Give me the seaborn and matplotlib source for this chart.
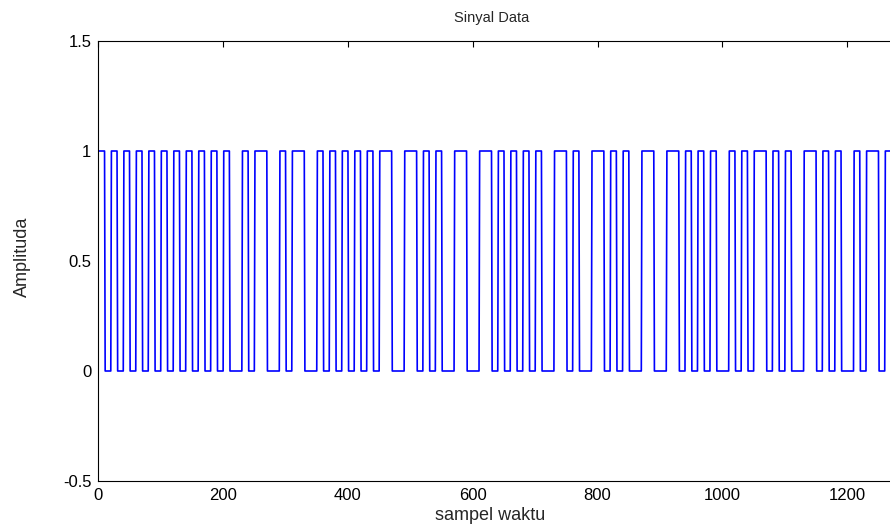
import numpy as np
import pandas as pd
import seaborn as sns
import matplotlib
matplotlib.use("Agg")
import matplotlib.pyplot as plt
from matplotlib.ticker import FuncFormatter

# bit data (128 bits, 10 samples per bit)
bits = [1, 0, 1, 0, 1, 0, 1, 0, 1, 0,
        1, 0, 1, 0, 1, 0, 1, 0, 1, 0,
        1, 0, 0, 1, 0, 1, 1, 0, 0, 1,
        0, 1, 1, 0, 0, 1, 0, 1, 0, 1,
        0, 1, 0, 1, 0, 1, 1, 0, 0, 1,
        1, 0, 1, 0, 1, 0, 0, 1, 1, 0,
        0, 1, 1, 0, 1, 0, 1, 0, 1, 0,
        1, 0, 0, 1, 1, 0, 1, 0, 0, 1,
        1, 0, 1, 0, 1, 0, 0, 1, 1, 0,
        0, 1, 1, 0, 1, 0, 1, 0, 1, 0,
        0, 1, 0, 1, 0, 1, 1, 0, 1, 0,
        1, 0, 0, 1, 1, 0, 1, 0, 1, 0,
        0, 1, 0, 1, 1, 0, 1, 0]
samples_per_bit = 10
x_ticks = [0, 200, 400, 600, 800, 1000, 1200]
y_ticks = [-0.5, 0, 0.5, 1, 1.5]

# sinyal: tiap bit diulang sebanyak samples_per_bit (indeks mulai 1 seperti MATLAB)
signal = np.repeat(bits, samples_per_bit)
df = pd.DataFrame({"sampel": np.arange(1, len(signal) + 1), "amplituda": signal})

sns.set_style("white")
plt.rcParams["font.family"] = ["Liberation Sans", "DejaVu Sans"]
plt.rcParams["axes.unicode_minus"] = False

fig = plt.figure(figsize=(8.9, 5.27), dpi=100)
ax = fig.add_axes([98.3 / 890, 46 / 527, (897.2 - 98.3) / 890, 440 / 527])

sns.lineplot(data=df, x="sampel", y="amplituda", ax=ax, color="#0000ff",
             linewidth=1.2, estimator=None)

ax.set_xticks(x_ticks)
ax.set_yticks(y_ticks)
ax.set_xlim(0, 1280)
ax.set_ylim(-0.5, 1.5)
ax.yaxis.set_major_formatter(FuncFormatter(lambda v, p: "%g" % v))
ax.xaxis.set_major_formatter(FuncFormatter(lambda v, p: "%g" % v))
ax.tick_params(direction="in", length=4, width=0.8, top=True, right=True,
               labelsize=12, colors="black", pad=5)
for s in ax.spines.values():
    s.set_color("black")
    s.set_linewidth(0.8)
    s.set_visible(True)

ax.set_xlabel("")
ax.set_ylabel("")
fig.text(490 / 890, 1 - 516 / 527, "sampel waktu", ha="center", va="center", fontsize=13)
fig.text(22 / 890, 1 - 257 / 527, "Amplituda", ha="center", va="center",
         rotation=90, fontsize=13)
fig.text(492 / 890, 1 - 18 / 527, "Sinyal Data", ha="center", va="center", fontsize=10.5)

plt.savefig("out.png", dpi=100)
plt.close()
